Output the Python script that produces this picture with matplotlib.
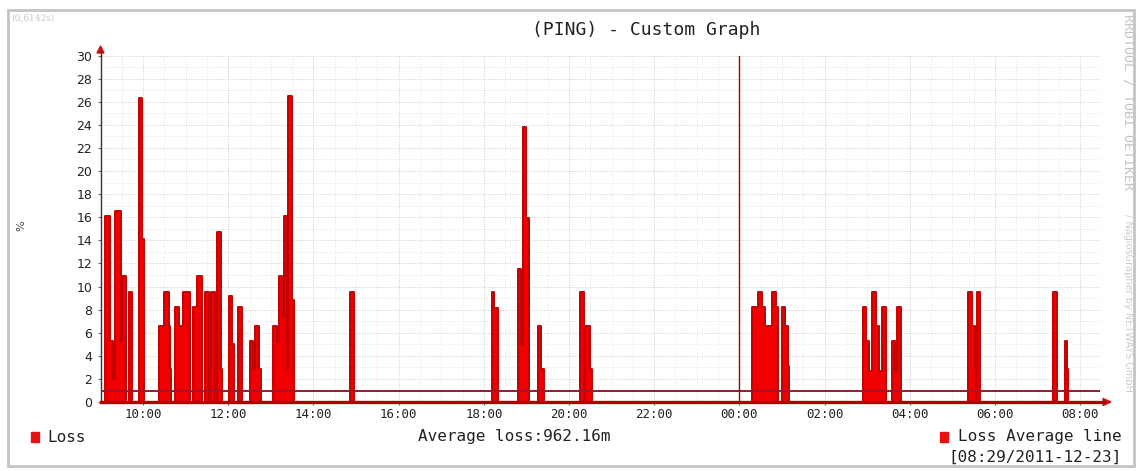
import matplotlib
matplotlib.use("Agg")
import matplotlib.pyplot as plt
import numpy as np
from matplotlib.patches import Rectangle, Polygon
from matplotlib.lines import Line2D

# ---------------- data ----------------
loss_times = [
    "09:00", "09:06", "09:07", "09:13", "09:17", "09:21", "09:29", "09:30", "09:36", "09:40",
    "09:45", "09:54", "09:59", "10:01",
    "10:23", "10:30", "10:36", "10:38", "10:39", "10:45", "10:50", "10:56", "11:06", "11:10",
    "11:16", "11:23", "11:27", "11:33", "11:35", "11:41", "11:44", "11:50", "11:51", "12:01",
    "12:05", "12:08", "12:13", "12:19", "12:30", "12:35", "12:37", "12:43", "12:46", "13:03",
    "13:08", "13:11", "13:15", "13:19", "13:23", "13:24", "13:30", "13:33",
    "14:51", "14:57",
    "18:11", "18:15", "18:20", "18:48", "18:52", "18:55", "19:00", "19:04", "19:16", "19:21",
    "19:25", "20:15", "20:21", "20:23", "20:30", "20:32",
    "00:18", "00:26", "00:32", "00:36", "00:46", "00:51", "00:55", "01:00", "01:04", "01:09",
    "01:10",
    "02:54", "02:59", "03:03", "03:07", "03:12", "03:17", "03:21", "03:27", "03:35", "03:39",
    "03:42", "03:48",
    "05:22", "05:28", "05:32", "05:34", "05:35", "05:39",
    "07:22", "07:27", "07:38", "07:41", "07:43", "08:28",
]
loss_values = [
    0, 5.2, 16.1, 5.3, 2.0, 16.5, 5.3, 10.9, 0, 9.5,
    0, 26.3, 14.1, 0,
    6.6, 9.5, 6.6, 2.9, 0, 8.2, 6.6, 9.5, 0, 8.2,
    10.9, 0, 9.5, 0, 9.5, 0, 14.7, 2.9, 0, 9.2,
    5.0, 0, 8.2, 0, 5.3, 2.9, 6.6, 2.9, 0, 6.6,
    5.2, 10.9, 7.4, 16.1, 2.9, 26.5, 8.8, 0,
    9.5, 0,
    9.5, 8.1, 0, 11.5, 4.9, 23.8, 15.9, 0, 6.6, 2.9,
    0, 9.5, 0, 6.6, 2.9, 0,
    8.2, 9.5, 8.2, 6.6, 9.5, 8.2, 0, 8.2, 6.6, 3.1,
    0,
    8.2, 5.3, 2.7, 9.5, 6.6, 2.7, 8.2, 0, 5.3, 2.7,
    8.2, 0,
    9.5, 6.6, 2.9, 0, 9.5, 0,
    9.5, 0, 5.3, 2.9, 0, 0,
]
average_loss = 0.96216
x_tick_labels = ["10:00", "12:00", "14:00", "16:00", "18:00", "20:00",
                 "22:00", "00:00", "02:00", "04:00", "06:00", "08:00"]
y_ticks = list(range(0, 31, 2))
midnight = "00:00"
graph_start, graph_end = "09:00", "08:28"

title = "(PING) - Custom Graph"
legend_loss = "Loss"
legend_avg_text = "Average loss:962.16m"
legend_avg_line = "Loss Average line"
timestamp = "[08:29/2011-12-23]"


def hrs(s):
    h, m = map(int, s.split(":"))
    v = h + m / 60.0
    if v < 9:
        v += 24
    return v


x = np.array([hrs(s) for s in loss_times])
y = np.array(loss_values, dtype=float)

# ---------------- figure ----------------
W, H = 1143, 471
fig = plt.figure(figsize=(W / 100, H / 100), dpi=100)
fig.patch.set_facecolor("white")


def fx(px):
    return px / W


def fy(py):
    return 1 - py / H


X0, X1, Y0, Y1 = 100.5, 1100.0, 402.0, 55.5
ax = fig.add_axes([fx(X0), fy(Y0), (X1 - X0) / W, (Y0 - Y1) / H])
ax.set_facecolor("white")
ax.set_xlim(hrs(graph_start), hrs(graph_end))
ax.set_ylim(0, 30)

# grid
ax.set_xticks([hrs(s) for s in x_tick_labels])
ax.set_xticklabels(x_tick_labels, family="DejaVu Sans Mono", fontsize=9, color="#222222")
ax.set_xticks(np.arange(9.0, 32.5, 0.5), minor=True)
ax.set_yticks(y_ticks)
ax.set_yticklabels([str(v) for v in y_ticks], family="DejaVu Sans", fontsize=9, color="#222222")
ax.set_yticks(range(0, 31), minor=True)
ax.grid(which="minor", color="#e0e0e0", ls=(0, (1, 1.5)), lw=0.6)
ax.grid(which="major", color="#cdcdcd", ls=(0, (1, 1.5)), lw=0.7)
ax.set_axisbelow(True)
ax.tick_params(axis="x", which="major", length=2, width=0.8, color="#666666", pad=2.5)
ax.tick_params(axis="y", which="major", length=2, width=0.8, color="#666666", pad=4)
ax.tick_params(which="minor", length=0)

for s in ["top", "right", "bottom"]:
    ax.spines[s].set_visible(False)
ax.spines["left"].set_color("#333333")
ax.spines["left"].set_linewidth(1.0)

# data
ax.fill_between(x, y, step="post", color="#f00000", lw=0, zorder=3)
ax.step(x, y, where="post", color="#c40000", lw=1.4, zorder=4)
ax.axhline(average_loss, color="#9a1830", lw=1.4, zorder=5)
ax.axvline(hrs(midnight), color="#a00000", lw=1.0, zorder=5)
ax.axhline(0, color="#b00000", lw=2.4, zorder=6, clip_on=False)

# axis arrows (in figure pixel space)
fig.add_artist(Line2D([fx(1100), fx(1104)], [fy(402), fy(402)], color="#b00000", lw=2.0))
fig.add_artist(Polygon([[fx(1103), fy(398.5)], [fx(1111), fy(402)], [fx(1103), fy(405.5)]],
                       closed=True, color="#cc1111", transform=fig.transFigure))
fig.add_artist(Line2D([fx(100.5), fx(100.5)], [fy(56), fy(51)], color="#333333", lw=1.0))
fig.add_artist(Polygon([[fx(97), fy(53)], [fx(100.5), fy(46)], [fx(104), fy(53)]],
                       closed=True, color="#cc1111", transform=fig.transFigure))

# frame
fig.add_artist(Rectangle((fx(8), fy(466)), (1134 - 8) / W, (466 - 10) / H, fill=False,
                         edgecolor="#c4c4c4", lw=2, transform=fig.transFigure))

# texts
fig.text(fx(646), fy(30), title, family="DejaVu Sans Mono", fontsize=13,
         ha="center", va="center", color="#222222")
fig.text(fx(11), fy(18), "(0,6142s)", family="DejaVu Serif", fontsize=6.5,
         ha="left", va="center", color="#c8c8c8")
fig.text(fx(21), fy(226), "%", family="DejaVu Sans", fontsize=8, rotation=90,
         ha="center", va="center", color="#444444")
fig.text(fx(1128), fy(14), "RRDTOOL / TOBI OETIKER", family="DejaVu Sans Mono", fontsize=9.5,
         rotation=270, ha="center", va="top", color="#c4c4c4")
fig.text(fx(1128), fy(214), "/ NagiosGrapher by NETWAYS GmbH", family="DejaVu Sans", fontsize=7,
         rotation=270, ha="center", va="top", color="#cccccc")

# legend
fig.add_artist(Rectangle((fx(31), fy(442)), 8 / W, 10 / H, color="#e81010",
                         transform=fig.transFigure))
fig.text(fx(47), fy(437), legend_loss, family="DejaVu Sans Mono", fontsize=11.5,
         ha="left", va="center", color="#222222")
fig.text(fx(514), fy(437), legend_avg_text, family="DejaVu Sans Mono", fontsize=11.5,
         ha="center", va="center", color="#222222")
fig.add_artist(Rectangle((fx(940), fy(442)), 8 / W, 10 / H, color="#e81010",
                         transform=fig.transFigure))
fig.text(fx(1122), fy(437), legend_avg_line, family="DejaVu Sans Mono", fontsize=11.5,
         ha="right", va="center", color="#222222")
fig.text(fx(1122), fy(457), timestamp, family="DejaVu Sans Mono", fontsize=11.5,
         ha="right", va="center", color="#222222")

fig.savefig("out.png", dpi=100, facecolor="white")
